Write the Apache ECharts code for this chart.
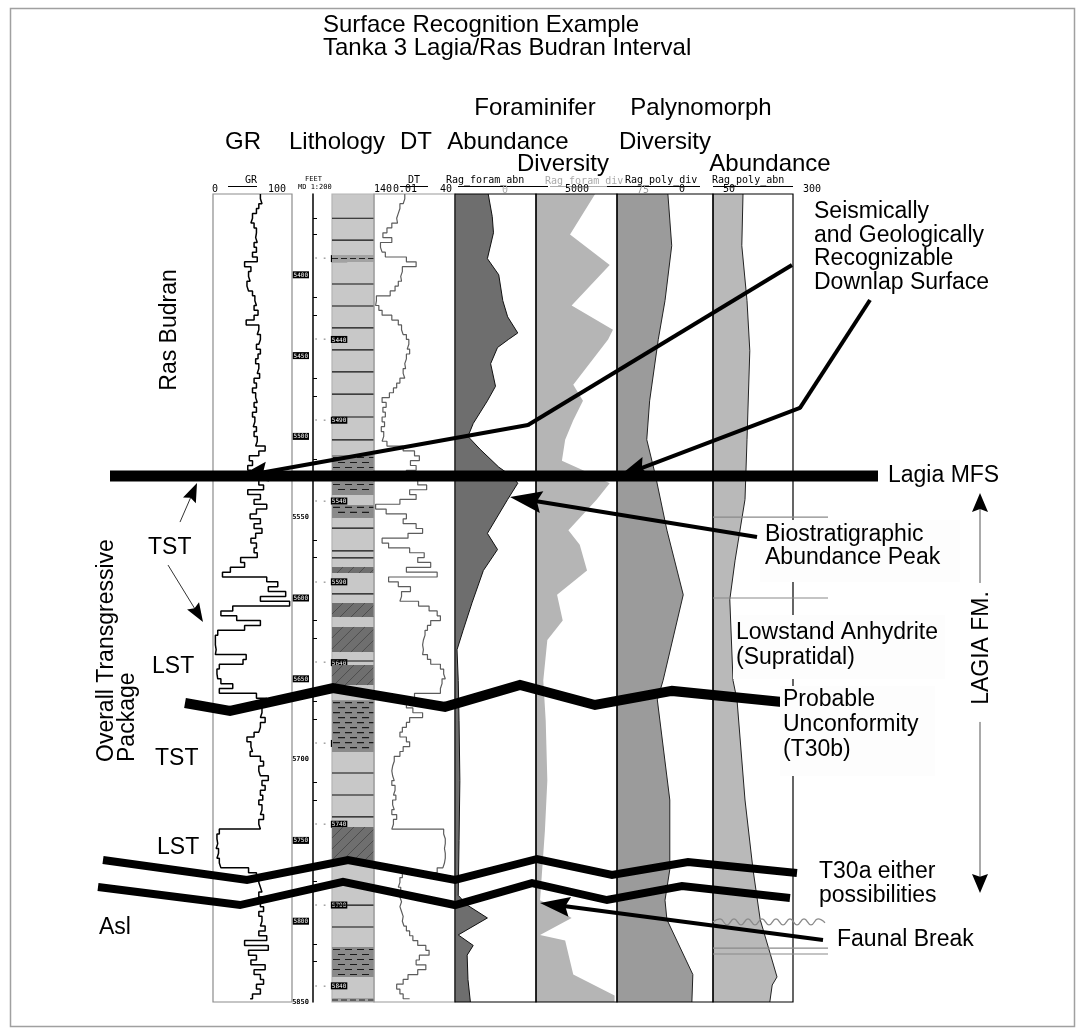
<!DOCTYPE html>
<html><head><meta charset="utf-8">
<script src="https://cdn.jsdelivr.net/npm/echarts@6/dist/echarts.min.js"></script>
<style>html,body{margin:0;padding:0;background:#fff}#c{width:1085px;height:1030px}</style>
</head><body><div id="c"></div><script>
// ---------- DATA ----------
const DEPTH_TOP = 5350, DEPTH_BASE = 5850, LOG_STEP = 3;
const GR_VALUES = [60,62,58,55,50,48,52,55,54,56, 52,55,50,56,40,48,45,47,43,45, 50,53,55,52,57,52,42,58,56,60,
 58,55,60,57,54,58,56,59,52,55, 50,54,56,52,55,50,53,51,55,52, 56,54,66,58,46,50,44,48,42,58,
 64,44,60,52,68,55,47,60,52,62, 54,48,55,52,56,35,40,22,12,68, 82,70,92,60,97,25,10,30,60,40,
 6,3,3,4,3,42,38,8,5,6, 10,25,8,55,68,57,62,60,66,60, 58,52,43,48,50,47,60,64,58,60,
 70,62,66,60,63,58,62,60,64,58, 60,8,5,6,4,7,5,8,10,45, 55,58,60,62,58,63,60,64,58,62,
 60,66,58,68,40,70,45,55,48,66, 52,60,64,55,60,50,47];
const DT_VALUES = [102,104,108,110,112,111,118,124,129,118, 132,130,126,100,88,105,107,106,110,114, 120,137,138,134,130,118,110,106,104,100,
 97,99,96,100,102,101,104,102,108,112, 116,121,130,125,129,126,130,127,131,128, 130,124,104,90,84,95,88,100,97,86,
 75,96,88,108,138,125,100,104,88,80, 98,130,122,96,78,86,70,100,62,122, 110,95,106,108,85,72,62,58,70,74,
 77,79,80,79,80,74,70,58,54,52, 56,58,58,90,92,100,92,80,96,100, 105,108,100,96,104,108,115,117,118,117,
 115,118,114,116,113,117,115,118,112,116, 118,54,52,52,53,52,52,53,55,62, 105,108,110,107,108,106,108,106,104,105,
 103,100,96,92,86,76,72,84,88,76, 86,98,104,112,108,104,96];
// [value, depth]
const FORAM_ABN = [[41,5350],[46,5364],[47.5,5374],[40,5390],[54,5400],[59,5416],[65,5426],[77.5,5436],[66,5440],[52.5,5445],[44,5455],[50,5469],[40,5478],[22.5,5492],[16,5500],[31,5508],[54,5519],[71,5525],[77.5,5529],[65,5539],[40,5560],[52.5,5570],[35,5583],[21,5603],[10,5620],[2.5,5632],[4,5651],[5,5676],[6,5713],[5,5750],[4,5784],[15,5790],[40,5798],[4,5808.5],[22.5,5815],[15,5821],[16,5836],[19,5850]];
const FORAM_DIV = [[73,5350],[42,5375],[91,5394],[44,5419],[95,5434],[89,5440],[46,5468],[58,5478],[46,5490],[36,5502],[32,5515],[58,5521],[91,5529],[75,5539],[40,5558],[54,5567],[63,5583],[26,5598],[33,5614],[14,5626],[9,5651],[12,5676],[14,5713],[11,5744],[5,5787],[17,5790],[44,5798],[5,5808.5],[36,5812],[46,5833],[97,5846],[97,5850]];
const PALY_DIV = [[53,5350],[57,5382],[50,5416],[43,5440],[34,5478],[31,5502],[40,5524],[52,5558],[69,5598],[48,5651],[42,5663],[55,5725],[55,5768],[50,5787],[52,5799],[79,5833],[78,5850]];
const PALY_ABN = [[37.5,5350],[36,5382],[42.5,5416],[46,5447],[42.5,5502],[40,5539],[27.5,5577],[21,5601],[25,5651],[30,5663],[40,5725],[50,5768],[59,5799],[80,5834.5],[74,5839.5],[71,5850]];
// lithology [top, base, kind]
const LITH_BEDS = [[5365,5365,'line'],[5378.5,5378.5,'line'],[5387.7,5392.1,'band'],[5405.7,5405.7,'line'],[5419.3,5419.3,'line'],
 [5432.9,5432.9,'line'],[5446.5,5446.5,'line'],[5460.1,5460.1,'line'],[5473.8,5473.8,'line'],[5488,5488,'line'],[5502.2,5502.2,'line'],
 [5511.5,5520.8,'shale'],[5528.2,5536.3,'shale'],[5542.4,5550.5,'shale'],[5556.7,5556.7,'line'],[5570.9,5570.9,'line'],[5575.2,5575.2,'line'],
 [5580.8,5584.5,'hatch'],[5597.5,5597.5,'line'],[5603.1,5611.8,'hatch'],[5617.9,5633.4,'hatch'],[5639,5639,'line'],[5641.5,5653.8,'hatch'],
 [5663.2,5695.3,'shale'],[5708.3,5708.3,'line'],[5721.9,5721.9,'line'],[5735.5,5735.5,'line'],[5741.7,5764,'hatch'],
 [5790,5790,'line'],[5803.6,5803.6,'line'],[5816,5834.5,'shale'],[5847.5,5850,'band']];
const DEPTH_TEXT_LABELS = [5550, 5700, 5850];
const RIGHT_DEPTH_LABELS = [5390,5440,5490,5540,5590,5640,5690,5740,5790,5840];
const RIGHT_DEPTH_TICKS = [5365,5375,5414,5425,5464,5475,5514,5525,5564,5575,5614,5625,5664,5675,5714,5725,5764,5775,5814,5825];
// interpretation overlay [x, depth]; last point of an arrow is its tip
const MFS_LINE = [[110,5524.5],[878,5524.5]];
const DOWNLAP_1 = [[792,5393.9],[528,5492.9],[238,5525.1]];
const DOWNLAP_2 = [[870,5415.6],[800,5482.4],[618,5525.1]];
const BIO_ARROW = [[757,5562.3],[510,5537.5]];
const UNCONF_T30B = [[185,5665],[230,5669.9],[333,5655.7],[445,5667.4],[520,5653.8],[595,5666.2],[672,5657.5],[782,5664.4]];
const T30A_UPPER = [[103,5762.1],[247,5774.5],[348,5762.1],[455,5774.5],[537,5761.5],[612,5771.4],[688,5763.4],[797,5770.2]];
const T30A_LOWER = [[98,5778.8],[240,5790],[343,5775.7],[455,5790],[532,5776.4],[607,5786.9],[682,5778.2],[790,5785.6]];
const FAUNAL_ARROW = [[823,5811.6],[540,5788.7]];
const TST_ARROW_UP = [[180,5553],[197,5528.8]];
const TST_ARROW_DOWN = [[168,5579.6],[203,5614.9]];
const LAGIA_UP = [[980,5590.7],[980,5535]];
const LAGIA_DOWN = [[980,5676.7],[980,5782.5]];
const WAVE_LINE = [[713,5800.5],[720,5798.6],[727,5802.3],[734,5798.6],[741,5802.3],[748,5798.6],[755,5802.3],[762,5798.6],[769,5802.3],[776,5798.6],[783,5802.3],[790,5798.6],[797,5802.3],[804,5798.6],[811,5802.3],[818,5798.6],[825,5801]];
const RULE_LINES = [[[713,5549.9],[828,5549.9]],[[713,5600],[828,5600]],[[713,5816.6],[828,5816.6]],[[713,5820.3],[828,5820.3]]];

// ---------- LAYOUT ----------
const TOP = 194, HEIGHT = 808;
const TRACKS = [
  {left:213, width:79, border:'#8c8c8c', x:[0,100]},
  {left:313, width:19, border:null, x:[0,1]},
  {left:332, width:42, border:'#b4b4b4', bg:'#c8c8c8', x:[0,100]},
  {left:374, width:81, border:'#9a9a9a', x:[40,140], inv:true},
  {left:455, width:81, border:'#000', x:[0,100]},
  {left:536, width:81, border:'#000', x:[0,100]},
  {left:617, width:96, border:'#000', x:[0,100]},
  {left:713, width:80, border:'#000', x:[0,100]},
  {left:0, width:1085, border:null, x:[0,1085]}
];
const FONT = '"Liberation Sans", Arial, Helvetica, sans-serif';
const MONO = '"DejaVu Sans Mono", monospace';

const grids = TRACKS.map((t,i)=>({left:t.left, width:t.width, top:TOP, height:HEIGHT,
  show: !!(t.border||t.bg), borderColor: t.border||'transparent', borderWidth: t.border?1.2:0,
  backgroundColor: t.bg||'transparent', z: i===2?0:3}));
const xAxes = TRACKS.map((t,i)=>({gridIndex:i, type:'value', min:t.x[0], max:t.x[1], inverse:!!t.inv, show:false}));
const yAxes = TRACKS.map((t,i)=>({gridIndex:i, type:'value', min:DEPTH_TOP, max:DEPTH_BASE, inverse:true, show:false}));
yAxes[1] = {gridIndex:1, type:'value', min:DEPTH_TOP, max:DEPTH_BASE, inverse:true, interval:50, position:'left',
  axisLine:{show:true, lineStyle:{color:'#000', width:1.5}}, axisTick:{show:false}, splitLine:{show:false},
  axisLabel:{show:true, margin:4, formatter:v=> v===DEPTH_TOP ? '' : (DEPTH_TEXT_LABELS.includes(v) ? '{t|'+v+'}' : '{b|'+v+'}'),
    rich:{t:{fontSize:7, fontFamily:MONO, fontWeight:'bold', color:'#000'},
          b:{fontSize:6, fontFamily:MONO, color:'#fff', backgroundColor:'#000', padding:[1,1,0,1]}}}};
yAxes.push({gridIndex:1, type:'value', min:DEPTH_TOP, max:DEPTH_BASE, inverse:true, position:'left',
  axisLine:{show:false}, splitLine:{show:false},
  axisTick:{show:true, inside:true, length:4, customValues:RIGHT_DEPTH_TICKS, lineStyle:{color:'#000'}},
  axisLabel:{show:true, inside:true, margin:1, customValues:RIGHT_DEPTH_LABELS, formatter:v=>'{d|- - }{b|'+v+'}',
    rich:{d:{fontSize:7, color:'#000', fontFamily:MONO}, b:{fontSize:6, fontFamily:MONO, color:'#fff', backgroundColor:'#000', padding:[1,1,0,1]}}}});

function depthOf(i){ return DEPTH_TOP + i*LOG_STEP; }

function curveFill(idx, pts, fill, stroke){
  return {type:'custom', xAxisIndex:idx, yAxisIndex:idx, data:pts, z:2, silent:true,
    renderItem(params, api){
      if (params.dataIndex !== 0) return null;
      const line = pts.map(p=>api.coord(p));
      const poly = [api.coord([0, pts[0][1]])].concat(line, [api.coord([0, pts[pts.length-1][1]])]);
      const ch = [{type:'polygon', shape:{points:poly}, style:{fill:fill, stroke:null}}];
      if (stroke) ch.push({type:'polyline', shape:{points:line}, style:{fill:null, stroke:stroke, lineWidth:1}});
      return {type:'group', children:ch};
    }};
}

function renderLith(params, api){
  const bed = LITH_BEDS[params.dataIndex];
  const a = api.coord([0, bed[0]]), b = api.coord([100, bed[1]]);
  const x0=a[0], x1=b[0], y0=a[1], y1=Math.max(b[1], a[1]);
  const kind = bed[2], ch = [];
  if (kind==='line') {
    ch.push({type:'line', shape:{x1:x0, y1:y0, x2:x1, y2:y0}, style:{stroke:'#111', lineWidth:1.2}});
  } else if (kind==='band') {
    ch.push({type:'rect', shape:{x:x0, y:y0, width:x1-x0, height:y1-y0}, style:{fill:'#a2a2a2'}});
    ch.push({type:'line', shape:{x1:x0, y1:(y0+y1)/2, x2:x1, y2:(y0+y1)/2}, style:{stroke:'#222', lineWidth:1.2, lineDash:[6,3]}});
  } else if (kind==='hatch') {
    ch.push({type:'rect', shape:{x:x0, y:y0, width:x1-x0, height:y1-y0}, style:{fill:'#6f6f6f'}});
    const h = y1-y0;
    for (let s = x0 - h; s < x1; s += 11) {
      const tA = Math.max(0, (x0-s)/h), tB = Math.min(1, (x1-s)/h);
      if (tB > tA) ch.push({type:'line', shape:{x1:s+tA*h, y1:y1-tA*h, x2:s+tB*h, y2:y1-tB*h}, style:{stroke:'#4a4a4a', lineWidth:0.9}});
    }
  } else if (kind==='shale') {
    ch.push({type:'rect', shape:{x:x0, y:y0, width:x1-x0, height:y1-y0}, style:{fill:'#8a8a8a'}});
    let r = 0;
    for (let y = y0+2.5; y < y1-1; y += 5, r++) {
      ch.push({type:'line', shape:{x1:x0+(r%2?6:1), y1:y, x2:x1, y2:y}, style:{stroke:'#1a1a1a', lineWidth:1.1, lineDash:[7,5]}});
    }
  }
  return {type:'group', children:ch};
}

function polyLine(pts, width, color, extra){
  return Object.assign({type:'line', xAxisIndex:8, yAxisIndex:8, data:pts, symbol:'none', clip:false, silent:true, z:10,
    lineStyle:{color:color||'#000', width:width, join:'miter', cap:'butt'}}, extra||{});
}
// arrow: polyline up to the last bend, then last segment + filled head drawn through api.coord
function arrow(pts, width, headLen, headWid, lineColor){
  const out = [];
  if (pts.length > 2) out.push(polyLine(pts.slice(0, -1), width, lineColor));
  const a = pts[pts.length-2], b = pts[pts.length-1];
  out.push({type:'custom', xAxisIndex:8, yAxisIndex:8, z:12, silent:true, clip:false, data:[a, b],
    renderItem(params, api){
      if (params.dataIndex !== 1) return null;
      const p = api.coord(a), t = api.coord(b);
      const dx = t[0]-p[0], dy = t[1]-p[1], L = Math.hypot(dx, dy);
      const ux = dx/L, uy = dy/L, nx = -uy, ny = ux;
      const bx = t[0]-headLen*ux, by = t[1]-headLen*uy;
      const mx = t[0]-0.85*headLen*ux, my = t[1]-0.85*headLen*uy;
      const ex = t[0]-0.6*headLen*ux, ey = t[1]-0.6*headLen*uy;
      return {type:'group', children:[
        {type:'line', shape:{x1:p[0], y1:p[1], x2:ex, y2:ey}, style:{stroke:lineColor||'#000', lineWidth:width, lineCap: pts.length>2?'round':'butt'}},
        {type:'polygon', shape:{points:[[t[0],t[1]],[bx+nx*headWid/2, by+ny*headWid/2],[mx,my],[bx-nx*headWid/2, by-ny*headWid/2]]}, style:{fill:'#000'}}
      ]};
    }});
  return out;
}

const series = [
  {type:'line', xAxisIndex:0, yAxisIndex:0, data:GR_VALUES.map((v,i)=>[v, depthOf(i)]), step:'start', symbol:'none', silent:true,
   lineStyle:{color:'#000', width:1.5}},
  {type:'line', xAxisIndex:3, yAxisIndex:3, data:DT_VALUES.map((v,i)=>[v, depthOf(i)]), step:'start', symbol:'none', silent:true,
   lineStyle:{color:'#5c5c5c', width:1.2}},
  {type:'custom', xAxisIndex:2, yAxisIndex:2, data:LITH_BEDS.map(b=>[b[0], b[1]]), encode:{y:[0,1]}, renderItem:renderLith, silent:true},
  curveFill(4, FORAM_ABN, '#6e6e6e', '#111'),
  curveFill(5, FORAM_DIV, '#b5b5b5', null),
  curveFill(6, PALY_DIV, '#9b9b9b', '#222'),
  curveFill(7, PALY_ABN, '#b9b9b9', '#222'),
  // overlay interpretation
  ...RULE_LINES.map(l=>polyLine(l, 1.2, '#8a8a8a', {z:9})),
  polyLine(WAVE_LINE, 1.3, '#8a8a8a', {smooth:true, z:9}),
  polyLine(MFS_LINE, 11),
  ...arrow(DOWNLAP_1, 4, 30, 20),
  ...arrow(DOWNLAP_2, 4, 30, 20),
  ...arrow(BIO_ARROW, 4, 32, 22),
  polyLine(UNCONF_T30B, 10),
  polyLine(T30A_UPPER, 8),
  polyLine(T30A_LOWER, 8),
  ...arrow(FAUNAL_ARROW, 4, 30, 20),
  ...arrow(TST_ARROW_UP, 1, 19, 14, '#333'),
  ...arrow(TST_ARROW_DOWN, 1, 19, 14, '#333'),
  ...arrow(LAGIA_UP, 1, 19, 16, '#555'),
  ...arrow(LAGIA_DOWN, 1, 19, 16, '#555')
];

// ---------- TEXT / GRAPHICS ----------
function txt(text, x, y, opt){
  opt = opt||{};
  return {type:'text', x:x, y:y, rotation:opt.rot||0, z:opt.z||30,
    style:{text:text, font:(opt.size||23)+'px '+(opt.family||FONT), fill:opt.color||'#000',
      align:opt.align||'left', verticalAlign:opt.va||'middle', lineHeight:opt.lh||undefined}};
}
function box(x,y,w,h){ return {type:'rect', z:25, shape:{x:x,y:y,width:w,height:h}, style:{fill:'#fdfdfd'}}; }
function hline(x1,x2,y,color){ return {type:'line', z:30, shape:{x1:x1,y1:y,x2:x2,y2:y}, style:{stroke:color||'#000', lineWidth:1}}; }

const graphics = [
  {type:'rect', z:0, shape:{x:10.5,y:8.5,width:1064,height:1018}, style:{fill:null, stroke:'#a0a0a0', lineWidth:1.5}},
  txt('Surface Recognition Example\nTanka 3 Lagia/Ras Budran Interval', 323, 37, {size:24, lh:23.5}),
  txt('Foraminifer', 535, 108, {size:24, align:'center'}),
  txt('Palynomorph', 701, 108, {size:24, align:'center'}),
  txt('GR', 243, 142, {size:24, align:'center'}),
  txt('Lithology', 337, 142, {size:24, align:'center'}),
  txt('DT', 416, 142, {size:24, align:'center'}),
  txt('Abundance', 508, 142, {size:24, align:'center'}),
  txt('Diversity', 665, 142, {size:24, align:'center'}),
  txt('Diversity', 563, 164, {size:24, align:'center'}),
  txt('Abundance', 770, 164, {size:24, align:'center'}),
  // scale row
  txt('0', 212, 189, {size:10, family:MONO}),
  hline(228, 257, 186.5), txt('GR', 251, 180, {size:10, family:MONO, align:'center'}),
  txt('100', 268, 189, {size:10, family:MONO}),
  txt('FEET', 305, 179, {size:7, family:MONO}),
  txt('MD 1:200', 298, 187, {size:7, family:MONO}),
  hline(400, 428, 186.5), txt('DT', 414, 180, {size:10, family:MONO, align:'center'}),
  txt('140', 374, 189, {size:10, family:MONO}),
  txt('0.01', 393, 189, {size:10, family:MONO}),
  txt('40', 440, 189, {size:10, family:MONO}),
  hline(458, 548, 186.5), txt('Rag_foram_abn', 446, 180, {size:10, family:MONO}),
  txt('0', 502, 190, {size:10, family:MONO, color:'#aaa'}),
  hline(550, 615, 186.5, '#aaa'), txt('Rag_foram_div', 545, 181, {size:10, family:MONO, color:'#aaa', z:20}),
  txt('5000', 565, 189, {size:10, family:MONO}),
  hline(607, 700, 186.5), txt('Rag_poly_div', 625, 180, {size:10, family:MONO}),
  txt('75', 637, 190, {size:10, family:MONO, color:'#999'}),
  txt('0', 679, 189, {size:10, family:MONO}),
  hline(713, 793, 186.5), txt('Rag_poly_abn', 712, 180, {size:10, family:MONO}),
  txt('50', 723, 189, {size:10, family:MONO}),
  txt('300', 803, 189, {size:10, family:MONO}),
  // annotation boxes
  box(760, 520, 200, 62),
  box(733, 615, 212, 64),
  box(780, 686, 155, 90),
  // right annotations
  txt('Seismically\nand Geologically\nRecognizable\nDownlap Surface', 814, 200, {va:'top', lh:23.6}),
  txt('Lagia MFS', 888, 476),
  txt('Biostratigraphic\nAbundance Peak', 765, 546, {lh:22.5}),
  txt('Lowstand Anhydrite\n(Supratidal)', 736, 645.5, {lh:25}),
  txt('Probable\nUnconformity\n(T30b)', 783, 725, {lh:25}),
  txt('T30a either\npossibilities', 819, 883.5, {lh:23.5}),
  txt('Faunal Break', 837, 940),
  txt('LAGIA FM.', 982, 648, {rot:Math.PI/2, align:'center'}),
  // left annotations
  txt('Ras Budran', 170, 330, {rot:Math.PI/2, align:'center'}),
  txt('Overall Transgressive\nPackage', 117.5, 762, {rot:Math.PI/2, align:'left', lh:21}),
  txt('TST', 148, 548),
  txt('LST', 152, 667),
  txt('TST', 155, 759),
  txt('LST', 157, 848),
  txt('Asl', 99, 928)
];

const chart = echarts.init(document.getElementById('c'), null, {renderer:'canvas'});
chart.setOption({
  animation:false,
  backgroundColor:'#fff',
  grid:grids, xAxis:xAxes, yAxis:yAxes, series:series,
  graphic:{elements:graphics}
});
</script></body></html>
